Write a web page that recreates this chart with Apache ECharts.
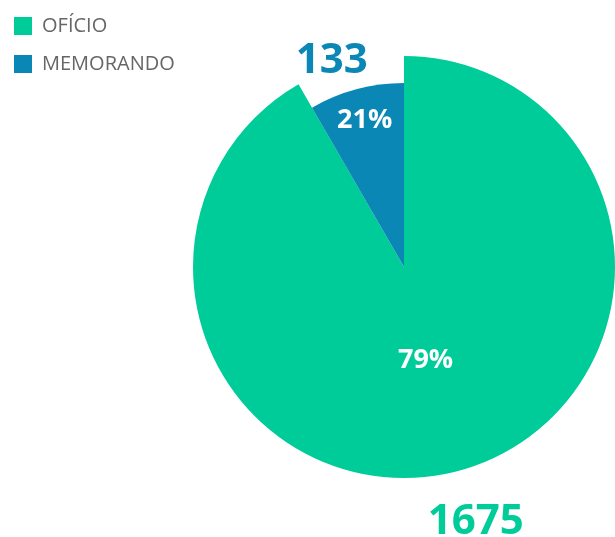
<!DOCTYPE html>
<html>
<head>
<meta charset="utf-8">
<title>OFÍCIO x MEMORANDO</title>
<script src="https://cdn.jsdelivr.net/npm/echarts@6/dist/echarts.min.js"></script>
<style>
    html, body { margin: 0; padding: 0; background: #fff; }
    #chart { width: 615px; height: 537px; }
</style>
</head>
<body>
<div id="chart"></div>
<script>
'use strict';

var categories = ['OFÍCIO', 'MEMORANDO'];
var counts = [1675, 133];
var percentLabels = ['79%', '21%'];
var colors = ['#00cc99', '#0b87b5'];

var CENTER = [404, 267];
var FONT = '"Open Sans", "Noto Sans", sans-serif';
var NONE = 'rgba(0,0,0,0)';

// 一个可见的扇区层，只画 index 对应的那一块
function sliceLayer(index, radius) {
    return {
        type: 'pie',
        center: CENTER,
        radius: radius,
        minAngle: 30,
        silent: true,
        label: {show: false},
        labelLine: {show: false},
        data: categories.map(function (name, i) {
            return {
                name: name,
                value: counts[i],
                itemStyle: {color: i === index ? colors[i] : NONE}
            };
        })
    };
}

// 透明圆环，只用来承载文字（inside 标签落在环中间）
function labelRing(index, radius, text, style, shift) {
    shift = shift || [0, 0];
    return {
        type: 'pie',
        center: CENTER,
        radius: radius,
        minAngle: 30,
        silent: true,
        avoidLabelOverlap: false,
        labelLine: {show: false},
        labelLayout: {dx: shift[0], dy: shift[1]},
        data: categories.map(function (name, i) {
            return {
                name: name,
                value: counts[i],
                itemStyle: {color: NONE},
                label: {
                    show: i === index,
                    position: 'inside',
                    formatter: text,
                    color: style.color,
                    fontSize: style.fontSize,
                    fontWeight: 'bold',
                    fontFamily: FONT
                }
            };
        })
    };
}

var chart = echarts.init(document.getElementById('chart'));

chart.setOption({
    animation: false,
    legend: {
        orient: 'vertical',
        left: 14,
        top: 16,
        padding: 0,
        itemWidth: 18,
        itemHeight: 18,
        itemGap: 18,
        icon: 'rect',
        selectedMode: false,
        textStyle: {
            fontSize: 20,
            color: '#666',
            fontFamily: FONT,
            padding: [0, 0, 0, 5]
        },
        data: categories.map(function (name, i) {
            return {name: name, itemStyle: {color: colors[i]}};
        })
    },
    series: [
        sliceLayer(0, [0, 211]),
        sliceLayer(1, [0, 184]),
        labelRing(0, [0, 184], percentLabels[0], {color: '#fff', fontSize: 27}, [-3, 2]),
        labelRing(1, [114, 184], percentLabels[1], {color: '#fff', fontSize: 27}),
        labelRing(0, [211, 315], String(counts[0]), {color: colors[0], fontSize: 42}, [3, -2]),
        labelRing(1, [184, 244], String(counts[1]), {color: colors[1], fontSize: 42}, [-16, 4])
    ]
});
</script>
</body>
</html>
